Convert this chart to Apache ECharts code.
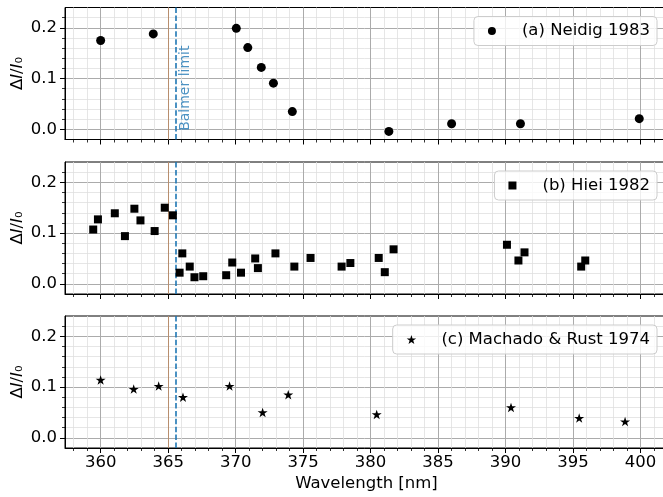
<!DOCTYPE html>
<html><head><meta charset="utf-8">
<script src="https://cdn.jsdelivr.net/npm/echarts@6/dist/echarts.min.js"></script>
<style>html,body{margin:0;padding:0;background:#fff}#c{width:663px;height:497px}</style>
</head><body><div id="c"></div>
<script>
// ---- data ----
const neidigX = [360.0, 363.9, 370.05, 370.9, 371.9, 372.8, 374.2, 381.35, 386.0, 391.1, 399.9];
const neidigY = [0.175, 0.188, 0.199, 0.161, 0.122, 0.091, 0.035, -0.004, 0.011, 0.011, 0.021];

const hieiX = [359.45, 359.8, 361.05, 361.8, 362.5, 362.95, 364.0, 364.75, 365.35, 365.85, 366.05, 366.6, 366.95, 367.6, 369.3, 369.75, 370.4, 371.45, 371.65, 372.95, 374.35, 375.55, 377.85, 378.5, 380.6, 381.05, 381.7, 390.1, 390.95, 391.4, 395.6, 395.9];
const hieiY = [0.107, 0.127, 0.139, 0.094, 0.148, 0.125, 0.104, 0.150, 0.135, 0.022, 0.060, 0.034, 0.013, 0.015, 0.017, 0.042, 0.022, 0.050, 0.031, 0.060, 0.034, 0.051, 0.034, 0.041, 0.051, 0.023, 0.068, 0.077, 0.046, 0.062, 0.034, 0.046];

const machadoX = [360.0, 362.45, 364.3, 366.1, 369.55, 372.0, 373.9, 380.45, 390.4, 395.45, 398.85];
const machadoY = [0.114, 0.096, 0.102, 0.080, 0.102, 0.050, 0.085, 0.046, 0.060, 0.039, 0.032];

const seriesNames = ['(a) Neidig 1983', '(b) Hiei 1982', '(c) Machado & Rust 1974'];
const xMajorTicks = [360, 365, 370, 375, 380, 385, 390, 395, 400];
const xMinorTicks = [358, 359, 361, 362, 363, 364, 366, 367, 368, 369, 371, 372, 373, 374, 376, 377, 378, 379, 381, 382, 383, 384, 386, 387, 388, 389, 391, 392, 393, 394, 396, 397, 398, 399, 401, 402];
const yMajorTicks = [0, 0.1, 0.2];
const yMinorTicks = [0.02, 0.04, 0.06, 0.08, 0.12, 0.14, 0.16, 0.18, 0.22];
const xRange = [357.36, 402.03];
const yRange = [-0.02, 0.24];
const balmerLimit = [365.6];
const refLine = [365.0];
const balmerText = 'Balmer limit';

// ---- layout / style ----
const FONT = 'DejaVu Sans';
const FS = 16.5;
const tops = [7.5, 162, 316];
const H = 132;
const MAJOR_GRID = '#ababab';
const MINOR_GRID = '#e0e0e0';
const starPath = 'path://M0,-1 L0.2245,-0.309 L0.951,-0.309 L0.363,0.118 L0.588,0.809 L0,0.382 L-0.588,0.809 L-0.363,0.118 L-0.951,-0.309 L-0.2245,-0.309 Z';
const squarePath = 'path://M0,0 L1,0 L1,1 L0,1 Z';
const symbols = ['circle', squarePath, starPath];
const symbolSizes = [9, 8, 10];
const dataSets = [[neidigX, neidigY], [hieiX, hieiY], [machadoX, machadoY]];

const grids = [], xAxes = [], yAxes = [], series = [], legends = [];
for (let i = 0; i < 3; i++) {
  grids.push({left: 65, top: tops[i], width: 603, height: H, show: true, containLabel: false,
    outerBoundsMode: 'none',
    borderColor: '#000', borderWidth: 1, backgroundColor: 'transparent'});
  // minor x
  xAxes.push({type: 'value', gridIndex: i, position: 'bottom', min: xRange[0], max: xRange[1],
    axisLine: {show: false, onZero: false},
    axisTick: {show: true, customValues: xMinorTicks, length: 3, lineStyle: {color: '#000', width: 0.8}},
    axisLabel: {show: false},
    splitLine: {show: true, lineStyle: {color: MINOR_GRID, width: 0.8}}});
  // major x
  const last = i === 2;
  xAxes.push({type: 'value', gridIndex: i, position: 'bottom', min: xRange[0], max: xRange[1],
    axisLine: {show: true, onZero: false, lineStyle: {color: '#000', width: 1}},
    axisTick: {show: true, customValues: xMajorTicks, length: 5, lineStyle: {color: '#000', width: 1}},
    axisLabel: {show: last, customValues: xMajorTicks, fontSize: FS, fontFamily: FONT, color: '#000', margin: 6},
    splitLine: {show: true, lineStyle: {color: MAJOR_GRID, width: 1}},
    name: last ? 'Wavelength [nm]' : '', nameLocation: 'middle', nameGap: 27, nameMoveOverlap: false,
    nameTextStyle: {fontSize: FS, fontFamily: FONT, color: '#000'}});
  // minor y
  yAxes.push({type: 'value', gridIndex: i, position: 'left', min: yRange[0], max: yRange[1],
    axisLine: {show: false, onZero: false},
    axisTick: {show: true, customValues: yMinorTicks, length: 3, lineStyle: {color: '#000', width: 0.8}},
    axisLabel: {show: false},
    splitLine: {show: true, lineStyle: {color: MINOR_GRID, width: 0.8}}});
  // major y
  yAxes.push({type: 'value', gridIndex: i, position: 'left', min: yRange[0], max: yRange[1],
    axisLine: {show: true, onZero: false, lineStyle: {color: '#000', width: 1}},
    axisTick: {show: true, customValues: yMajorTicks, length: 5, lineStyle: {color: '#000', width: 1}},
    axisLabel: {show: true, customValues: yMajorTicks, fontSize: FS, fontFamily: FONT, color: '#000', margin: 8,
      formatter: v => v.toFixed(1)},
    splitLine: {show: true, lineStyle: {color: MAJOR_GRID, width: 1}},
    name: 'Δ{i|I}/{i|I}₀', nameLocation: 'middle', nameRotate: 90, nameGap: 39, nameMoveOverlap: false,
    nameTextStyle: {fontSize: FS, fontFamily: FONT, color: '#000', rich: {i: {fontStyle: 'italic', fontSize: FS, fontFamily: FONT}}}});

  const [xs, ys] = dataSets[i];
  series.push({type: 'scatter', name: seriesNames[i], xAxisIndex: 2 * i + 1, yAxisIndex: 2 * i + 1,
    symbol: symbols[i], symbolSize: symbolSizes[i], symbolKeepAspect: true,
    itemStyle: {color: '#000', opacity: 1}, z: 5,
    data: xs.map((x, k) => [x, ys[k]]),
    markLine: {silent: true, symbol: ['none', 'none'], animation: false, label: {show: false},
      data: [
        {xAxis: refLine[0], lineStyle: {color: '#b98a66', width: 0.9, type: 'solid'}},
        {xAxis: balmerLimit[0], lineStyle: {color: '#1f77b4', width: 1.6, type: [5.5, 2.4]}}
      ]}});

  legends.push({data: [seriesNames[i]], right: 6, top: tops[i] + 9, itemWidth: 20, itemHeight: i === 2 ? 9 : 8,
    symbolKeepAspect: true,
    selectedMode: false, padding: [6, 7, 6, 14],
    textStyle: {fontSize: FS, fontFamily: FONT, color: '#000', padding: [0, 0, 0, 15]},
    backgroundColor: 'rgba(255,255,255,0.8)', borderColor: '#cccccc', borderWidth: 1, borderRadius: 4});
}

// Balmer limit annotation (panel a)
series.push({type: 'scatter', name: 'balmer-label', xAxisIndex: 1, yAxisIndex: 1, silent: true,
  symbolSize: 0.01, z: 4, itemStyle: {color: 'transparent'},
  data: [[balmerLimit[0], 0]],
  label: {show: true, formatter: balmerText, rotate: 90, position: [9, 1.5], align: 'left', verticalAlign: 'middle',
    color: '#1f77b4', fontSize: 14, fontFamily: FONT}});

const chart = echarts.init(document.getElementById('c'), null, {renderer: 'canvas'});
chart.setOption({
  animation: false,
  textStyle: {fontFamily: FONT},
  grid: grids, xAxis: xAxes, yAxis: yAxes, series: series, legend: legends
});
</script></body></html>
